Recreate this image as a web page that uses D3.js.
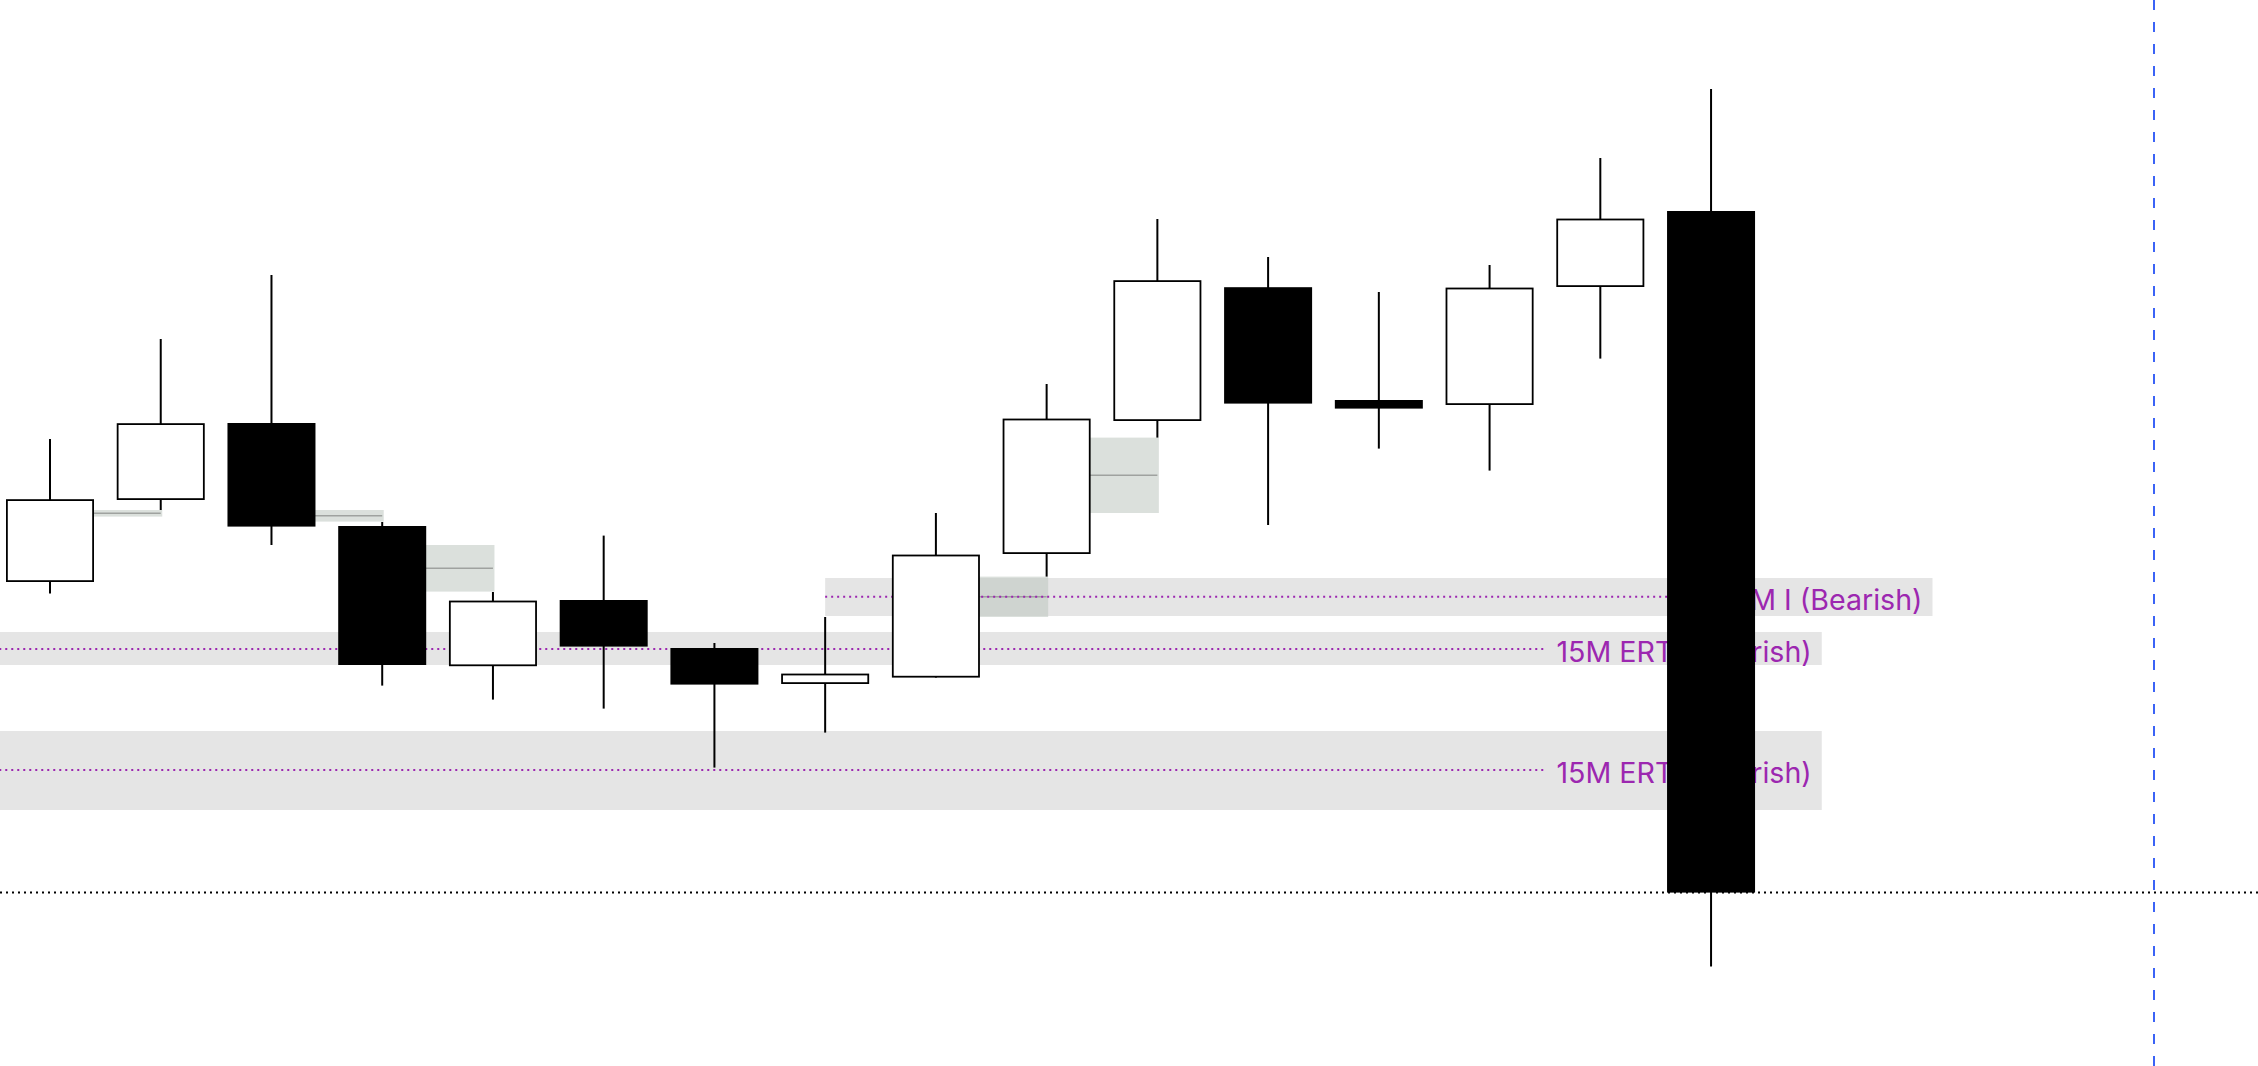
<!DOCTYPE html>
<html>
<head>
<meta charset="utf-8">
<script src="https://cdn.jsdelivr.net/npm/d3@7/dist/d3.min.js"></script>
<style>
  html, body { margin: 0; padding: 0; background: #ffffff; overflow: hidden; }
  svg { display: block; }
</style>
</head>
<body>
<svg id="chart" width="2258" height="1066"></svg>
<script>
// ---- data ----
const barIndex = [0, 1, 2, 3, 4, 5, 6, 7, 8, 9, 10, 11, 12, 13, 14, 15];
const opens  = [20242.0, 20283.0, 20321.5, 20270.0, 20199.9, 20233.0, 20209.0, 20191.0, 20194.2, 20256.0, 20322.5, 20389.4, 20333.0, 20330.5, 20389.5, 20427.5];
const highs  = [20313.5, 20363.5, 20395.5, 20272.0, 20237.0, 20265.2, 20211.5, 20224.5, 20276.5, 20341.0, 20423.5, 20404.5, 20387.0, 20400.5, 20454.0, 20488.5];
const lows   = [20236.2, 20278.0, 20260.5, 20190.2, 20183.2, 20178.7, 20149.2, 20166.7, 20194.2, 20244.7, 20314.2, 20270.5, 20308.7, 20297.7, 20353.7, 20049.7];
const closes = [20283.4, 20321.4, 20269.7, 20200.5, 20232.7, 20209.7, 20190.7, 20196.2, 20255.7, 20323.7, 20392.9, 20331.2, 20328.7, 20389.2, 20423.7, 20086.7];

// fair value gap boxes (from bar index to next bar)
const fvgFrom   = [0, 2, 3, 8, 9];
const fvgTop    = [20278.0, 20278.0, 20260.5, 20244.7, 20314.2];
const fvgBottom = [20274.7, 20272.2, 20237.2, 20224.5, 20276.5];

// labelled levels
const levelLabels = ["15M I (Bearish)", "15M ERTI (Bearish)", "15M ERTI (Bearish)"];
const levelMid    = [20234.6, 20208.5, 20148.0];
const levelTop    = [20244.0, 20217.0, 20167.5];
const levelBottom = [20225.0, 20200.5, 20128.0];
const levelStart  = [7, -1, -1];
const levelEnd    = [17, 16, 16];

const nowIndex = 19;
const priceDomain = [20000, 20533];

// ---- chart ----
const W = 2258, H = 1066;
const svg = d3.select("#chart");
const x = d3.scaleLinear().domain([0, nowIndex]).range([50, 2154]);
const y = d3.scaleLinear().domain(priceDomain).range([H, 0]);
const bodyW = 88;
const sw = 1.8;

const candles = barIndex.map((i, k) => ({ i, o: opens[k], h: highs[k], l: lows[k], c: closes[k] }));

// bands
const levels = levelLabels.map((t, k) => ({ t, mid: levelMid[k], top: levelTop[k], bot: levelBottom[k], s: levelStart[k], e: levelEnd[k] }));
const gBands = svg.append("g");
gBands.selectAll("rect").data(levels).join("rect")
  .attr("x", d => x(d.s))
  .attr("y", d => y(d.top))
  .attr("width", d => x(d.e) - x(d.s))
  .attr("height", d => y(d.bot) - y(d.top))
  .attr("fill", "rgba(0,0,0,0.1)");

// FVG boxes
const fvgs = fvgFrom.map((f, k) => ({ f, top: fvgTop[k], bot: fvgBottom[k] }));
const gF = svg.append("g");
gF.selectAll("rect").data(fvgs).join("rect")
  .attr("x", d => x(d.f))
  .attr("y", d => y(d.top))
  .attr("width", d => x(d.f + 1) - x(d.f) + 1.5)
  .attr("height", d => y(d.bot) - y(d.top))
  .attr("fill", "rgba(186,195,188,0.52)");
gF.selectAll("line").data(fvgs).join("line")
  .attr("x1", d => x(d.f))
  .attr("x2", d => x(d.f + 1))
  .attr("y1", d => y((d.top + d.bot) / 2))
  .attr("y2", d => y((d.top + d.bot) / 2))
  .attr("stroke", "#9fa29f")
  .attr("stroke-width", 1.5);

// level labels and dotted lines
const gL = svg.append("g");
const labels = gL.selectAll("text").data(levels).join("text")
  .attr("x", d => x(d.e) - 10)
  .attr("y", d => y(d.mid) + 2.5)
  .attr("text-anchor", "end")
  .attr("dominant-baseline", "central")
  .attr("font-family", "Inter, 'Noto Sans', sans-serif")
  .attr("font-size", 28.6)
  .attr("fill", "#9c27b0")
  .text(d => d.t);
labels.each(function(d) { d.textStart = x(d.e) - 10 - this.getComputedTextLength(); });
gL.selectAll("line").data(levels).join("line")
  .attr("x1", d => x(d.s))
  .attr("x2", d => d.textStart - 11)
  .attr("y1", d => y(d.mid))
  .attr("y2", d => y(d.mid))
  .attr("stroke", "#9c27b0")
  .attr("stroke-width", 2)
  .attr("stroke-dasharray", "2,4");

// candles
const gC = svg.append("g");
gC.selectAll("line").data(candles).join("line")
  .attr("x1", d => x(d.i)).attr("x2", d => x(d.i))
  .attr("y1", d => y(d.h)).attr("y2", d => y(d.l))
  .attr("stroke", "#000").attr("stroke-width", 2);
gC.selectAll("rect").data(candles).join("rect")
  .attr("x", d => x(d.i) - bodyW / 2 + sw / 2)
  .attr("y", d => y(Math.max(d.o, d.c)) + sw / 2)
  .attr("width", bodyW - sw)
  .attr("height", d => Math.max(0.5, Math.abs(y(d.o) - y(d.c)) - sw))
  .attr("fill", d => d.c >= d.o ? "#ffffff" : "#000000")
  .attr("stroke", "#000")
  .attr("stroke-width", sw);

// last price line
const last = closes[closes.length - 1];
svg.append("line")
  .attr("x1", 0).attr("x2", W)
  .attr("y1", y(last)).attr("y2", y(last))
  .attr("stroke", "#000").attr("stroke-width", 2)
  .attr("stroke-dasharray", "2,4");

// now vertical line
svg.append("line")
  .attr("x1", x(nowIndex)).attr("x2", x(nowIndex))
  .attr("y1", 0).attr("y2", H)
  .attr("stroke", "#3b63f6").attr("stroke-width", 2)
  .attr("stroke-dasharray", "10,12");
</script>
</body>
</html>
